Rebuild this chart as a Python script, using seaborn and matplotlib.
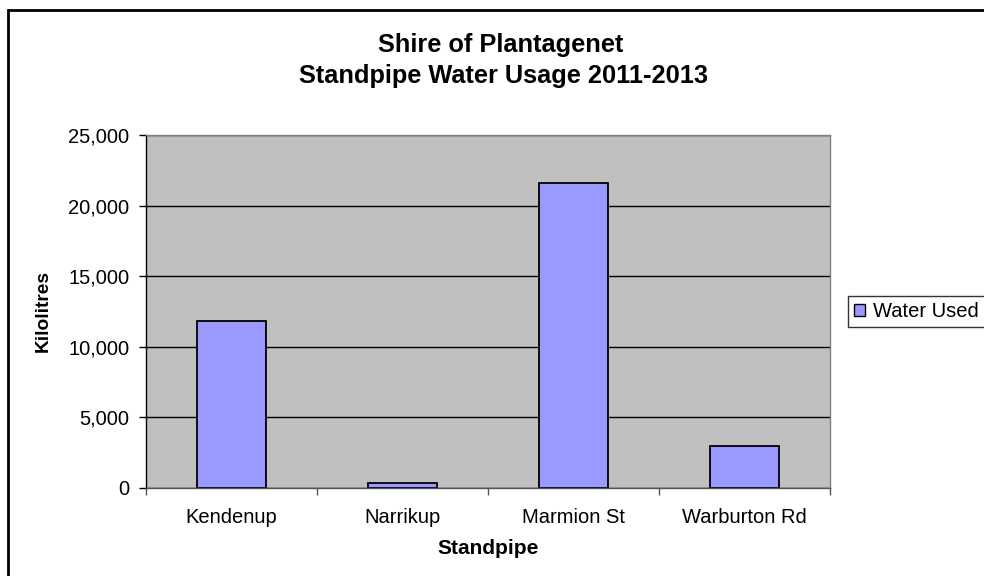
import matplotlib
matplotlib.use("Agg")
import matplotlib.pyplot as plt
import seaborn as sns
import pandas as pd
from matplotlib.patches import Patch, Rectangle
from matplotlib.ticker import FuncFormatter, FixedLocator

# data
standpipes = ["Kendenup", "Narrikup", "Marmion St", "Warburton Rd"]
water_used = [11850, 330, 21630, 2980]
series_name = "Water Used"
title_lines = ["Shire of Plantagenet", "Standpipe Water Usage 2011-2013"]

df = pd.DataFrame({"Standpipe": standpipes, "Kilolitres": water_used})

sns.set_theme(style="white")
plt.rcParams["font.family"] = ["Liberation Sans", "DejaVu Sans"]

fig = plt.figure(figsize=(9.84, 5.76), dpi=100)
ax = fig.add_axes([146 / 984, 1 - 487.7 / 576, (830 - 146) / 984, (487.7 - 135) / 576])

sns.barplot(data=df, x="Standpipe", y="Kilolitres", color="#9999FF",
            edgecolor="black", linewidth=1.3, width=0.4, saturation=1, ax=ax)

ax.set_facecolor("#C0C0C0")
ax.set_ylim(0, 25000)
ax.set_xlim(-0.5, 3.5)
ax.set_yticks(range(0, 25001, 5000))
ax.yaxis.set_major_formatter(FuncFormatter(lambda v, p: f"{int(v):,}"))
ax.grid(axis="y", color="black", linewidth=1)
ax.set_axisbelow(True)

# x ticks sit between the categories, labels centred on the bars
ax.set_xticks([i + 0.5 for i in range(-1, len(standpipes))])
ax.set_xticklabels([])
ax.xaxis.set_minor_locator(FixedLocator(range(len(standpipes))))
ax.set_xticks(range(len(standpipes)), labels=standpipes, minor=True)
ax.tick_params(axis="x", which="minor", length=0, labelsize=14.5, pad=14.3, colors="black")
ax.tick_params(axis="x", which="major", length=5, width=1, color="#555555", direction="out", bottom=True)
ax.tick_params(axis="y", length=5, width=1, color="black", direction="out", left=True,
               labelsize=14.5, pad=7, labelcolor="black")

for side in ["top", "right"]:
    ax.spines[side].set_color("#808080")
    ax.spines[side].set_linewidth(1)
ax.spines["left"].set_color("black")
ax.spines["bottom"].set_color("#555555")
ax.spines["left"].set_linewidth(1)
ax.spines["bottom"].set_linewidth(1)

ax.set_xlabel("Standpipe", fontsize=15, fontweight="bold", labelpad=9, color="black")
ax.set_ylabel("Kilolitres", fontsize=13.8, fontweight="bold", labelpad=12, color="black")

fig.text(501 / 984, 1 - 52 / 576, title_lines[0], ha="center", va="baseline",
         fontsize=18.3, fontweight="bold", color="black")
fig.text(503 / 984, 1 - 83 / 576, title_lines[1], ha="center", va="baseline",
         fontsize=18.3, fontweight="bold", color="black")

handles = [Patch(facecolor="#9999FF", edgecolor="black", linewidth=1)]
leg = fig.legend(handles, [series_name], loc="upper left",
                 bbox_to_anchor=(848 / 984, 1 - 296 / 576), fontsize=14.5,
                 frameon=True, fancybox=False, edgecolor="black",
                 handlelength=0.55, handleheight=0.55, handletextpad=0.4,
                 borderpad=0.3, borderaxespad=0)
leg.get_frame().set_linewidth(1)
for t in leg.get_texts():
    t.set_color("black")

# outer chart frame (clipped at the right and bottom like the reference)
fig.patches.append(Rectangle((8 / 984, -0.1), 1.2, 1 - 10 / 576 + 0.1,
                             transform=fig.transFigure, fill=False,
                             edgecolor="black", linewidth=2))

fig.savefig("out.png", dpi=100)
